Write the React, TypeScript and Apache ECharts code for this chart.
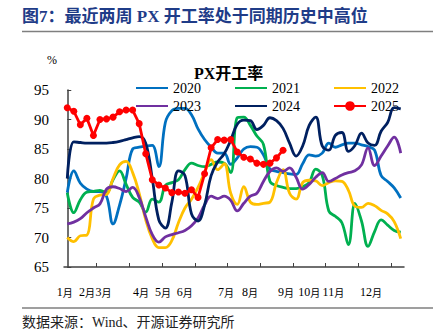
import React, { useEffect, useRef } from "react";
import * as echarts from "echarts";

const years = ["2020", "2021", "2022", "2023", "2024", "2025"];
const colors = ["#0070C0", "#00B050", "#FFC000", "#7030A0", "#002060", "#FF0000"];

const s2020 = [77.6, 81.3, 79.2, 78.2, 77.8, 77.8, 77.0, 72.3, 75.5, 80.0, 85.0, 85.3, 85.5, 85.6, 82.0, 89.5, 91.5, 91.9, 91.9, 90.8, 88.4, 86.6, 85.3, 84.3, 84.3, 82.4, 83.5, 85.0, 85.4, 85.3, 84.0, 81.6, 81.2, 81.0, 80.8, 80.7, 82.5, 84.0, 83.8, 84.3, 86.0, 85.3, 85.7, 86.0, 86.0, 85.7, 85.4, 84.8, 80.5, 79.5, 78.4, 76.7];
const s2021 = [77.6, 74.2, 76.4, 77.7, 77.8, 78.0, 77.6, 79.8, 81.3, 79.0, 76.8, 76.0, 74.3, 76.5, 76.0, 78.8, 79.3, 79.8, 81.5, 82.6, 82.2, 82.0, 82.4, 82.8, 82.6, 81.0, 90.3, 90.4, 89.0, 87.2, 85.8, 79.5, 78.8, 78.5, 78.3, 78.3, 78.6, 79.3, 81.6, 80.5, 74.5, 73.6, 72.5, 68.8, 75.8, 72.8, 68.5, 71.0, 73.0, 72.1, 71.2, 70.9];
const s2022 = [70.0, 69.3, 70.3, 70.4, 76.5, 77.2, 77.3, 80.0, 82.3, 82.9, 81.0, 77.5, 73.0, 69.8, 68.3, 68.3, 69.5, 72.5, 75.0, 76.5, 78.5, 81.0, 83.2, 81.5, 82.5, 77.5, 75.6, 78.6, 76.0, 75.6, 75.8, 76.0, 79.3, 81.5, 77.5, 76.5, 79.3, 79.7, 79.6, 78.8, 79.3, 79.6, 79.5, 78.0, 75.3, 75.1, 75.8, 75.4, 74.6, 74.0, 72.7, 69.8];
const s2023 = [72.3, 72.6, 73.2, 74.2, 75.0, 75.7, 78.2, 78.6, 78.3, 77.8, 78.5, 76.8, 73.5, 70.5, 69.2, 70.1, 70.5, 70.8, 71.2, 72.0, 73.3, 75.5, 77.0, 76.6, 77.0, 76.3, 74.5, 75.8, 77.0, 77.5, 79.5, 81.2, 81.8, 81.2, 81.8, 80.2, 78.2, 79.0, 80.2, 81.0, 79.5, 80.0, 80.6, 81.0, 81.3, 82.3, 85.2, 82.2, 83.8, 85.5, 87.0, 84.3];
const s2024 = [80.0, 86.2, 86.1, 86.0, 86.0, 86.0, 86.0, 86.1, 86.3, 86.6, 86.9, 87.1, 86.0, 80.0, 73.0, 71.6, 76.0, 81.3, 80.5, 74.0, 72.8, 75.5, 80.5, 82.8, 84.2, 86.5, 89.2, 89.9, 89.8, 88.3, 89.0, 90.3, 89.8, 88.5, 86.0, 83.8, 85.5, 89.0, 90.4, 85.5, 84.8, 87.3, 87.8, 84.6, 85.6, 87.7, 86.0, 85.6, 88.0, 89.5, 92.0, 91.8];
const s2025 = [92.0, 91.4, 89.1, 90.2, 87.3, 90.0, 90.1, 90.4, 91.3, 91.6, 91.6, 89.3, 84.2, 79.8, 78.9, 78.4, 77.6, 77.7, 77.5, 78.1, 76.8, 80.8, 85.2, 86.6, 86.5, 86.6, 84.5, 83.6, 83.3, 82.6, 82.4, 82.6, 83.5, 84.8];
const seriesValues = [s2020, s2021, s2022, s2023, s2024, s2025];

const monthLabels = ["1月", "2月", "3月", "4月", "5月", "6月", "7月", "8月", "9月", "10月", "11月", "12月"];
const monthLabelPos = [-0.4, 3.0, 5.55, 11.27, 14.64, 17.97, 24.27, 27.94, 33.44, 37.0, 40.7, 46.44];
const tickWeeks = [5, 10, 15, 20, 25, 30, 35, 40, 45, 50];
const yTicks = [65, 70, 75, 80, 85, 90, 95];

const serif = "'Liberation Serif', 'Times New Roman', 'Noto Sans CJK SC', serif";
const cjk = "'Liberation Serif', 'Noto Sans CJK SC', sans-serif";

export default function App() {
  const ref = useRef<HTMLDivElement>(null);
  useEffect(() => {
    if (!ref.current) return;
    const chart = echarts.init(ref.current, null, { renderer: "svg" });
    const series = years.map((y, k) => ({
      name: y,
      type: "line",
      data: seriesValues[k].map((v, i) => [i, v]),
      smooth: k === 5 ? false : 0.4,
      symbol: k === 5 ? "circle" : "none",
      symbolSize: 7,
      showSymbol: k === 5,
      lineStyle: { color: colors[k], width: 2.8 },
      itemStyle: { color: colors[k] },
      z: 2 + k,
    }));
    const legendBase = {
      left: 130,
      itemWidth: 32,
      itemHeight: 12,
      itemGap: 33,
      textStyle: { fontFamily: serif, fontSize: 14, color: "#000" },
    };
    chart.setOption({
      animation: false,
      title: {
        text: "PX开工率",
        left: 189,
        top: 60,
        textStyle: { fontFamily: serif, fontSize: 16, fontWeight: "bold", color: "#000" },
      },
      legend: [
        {
          ...legendBase,
          top: 76,
          data: years.slice(0, 3).map((n) => ({ name: n, itemStyle: { opacity: 0 } })),
        },
        {
          ...legendBase,
          top: 94,
          data: years.slice(3).map((n, j) => (j === 2 ? { name: n } : { name: n, itemStyle: { opacity: 0 } })),
        },
      ],
      grid: { left: 64, right: 37, top: 90, bottom: 69, containLabel: false },
      xAxis: {
        type: "value",
        min: -0.5,
        max: 51.5,
        splitLine: { show: false },
        axisLine: { show: true, lineStyle: { color: "#404040", width: 1.5 } },
        axisTick: {
          show: true,
          inside: true,
          length: 4,
          customValues: tickWeeks.map((w) => w - 0.5),
          lineStyle: { color: "#404040", width: 1 },
        },
        axisLabel: {
          customValues: monthLabelPos,
          margin: 19,
          formatter: (v: number) => {
            let best = 0;
            for (let j = 0; j < monthLabelPos.length; j++) {
              if (Math.abs(monthLabelPos[j] - v) < Math.abs(monthLabelPos[best] - v)) best = j;
            }
            const t = monthLabels[best];
            return "{d|" + t.replace("月", "") + "}{m|月}";
          },
          rich: {
            d: { fontFamily: serif, fontSize: 12, color: "#000" },
            m: { fontFamily: "'Noto Sans CJK SC', sans-serif", fontSize: 10, color: "#000" },
          },
        },
      },
      yAxis: {
        type: "value",
        min: yTicks[0],
        max: yTicks[yTicks.length - 1],
        interval: 5,
        splitLine: { show: false },
        axisLine: { show: true, lineStyle: { color: "#404040", width: 1.5 } },
        axisTick: { show: true, inside: true, length: 4, lineStyle: { color: "#404040", width: 1 } },
        axisLabel: { fontFamily: serif, fontSize: 15, color: "#000", margin: 15 },
      },
      graphic: [
        {
          type: "text",
          left: 22,
          top: 8,
          style: {
            text: "图7：最近两周 PX 开工率处于同期历史中高位",
            fontFamily: cjk,
            fontSize: 17,
            fontWeight: "bold",
            fill: "#1F3C88",
          },
        },
        { type: "line", shape: { x1: 22, y1: 31.5, x2: 433, y2: 31.5 }, style: { stroke: "#7f7f7f", lineWidth: 1.5 } },
        { type: "line", shape: { x1: 22, y1: 308, x2: 433, y2: 308 }, style: { stroke: "#7f7f7f", lineWidth: 1.5 } },
        {
          type: "text",
          left: 22,
          top: 315,
          style: { text: "数据来源：Wind、开源证券研究所", fontFamily: cjk, fontSize: 14, fill: "#222" },
        },
        {
          type: "text",
          left: 47,
          top: 54,
          style: { text: "%", fontFamily: serif, fontSize: 12, fill: "#000" },
        },
      ],
      series,
    });
    return () => chart.dispose();
  }, []);
  return (
    <div
      ref={ref}
      style={{ position: "fixed", left: 0, top: 0, width: 441, height: 336, background: "#fff" }}
    />
  );
}
